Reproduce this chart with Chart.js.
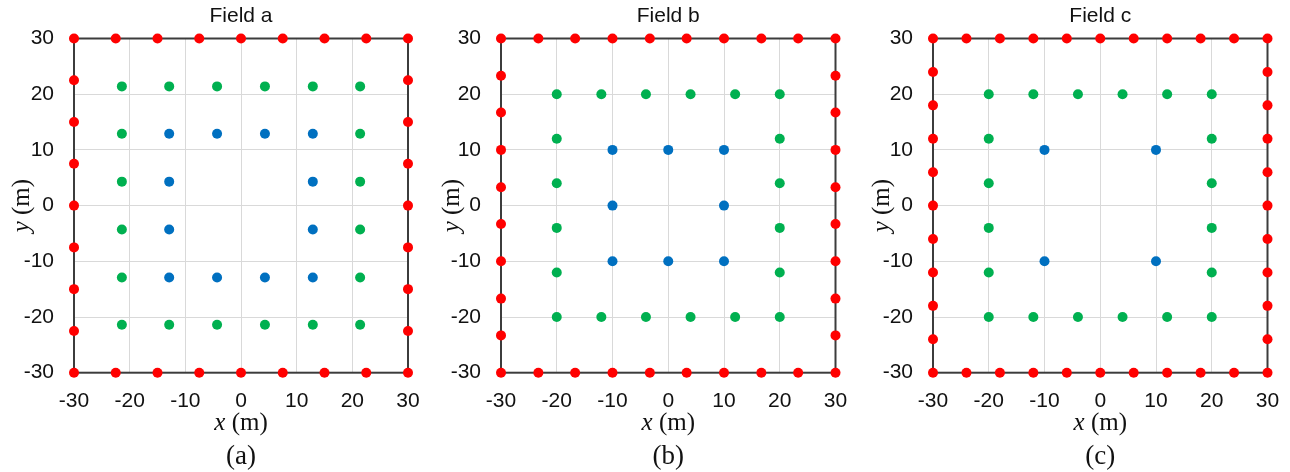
<!DOCTYPE html>
<html>
<head>
<meta charset="utf-8">
<script src="https://cdn.jsdelivr.net/npm/chart.js@4.4.1/dist/chart.umd.min.js"></script>
<style>
    html, body { margin: 0; padding: 0; background: #fff; }
    #wrap { position: relative; width: 1290px; height: 472px; }
    .panel { position: absolute; top: 0; height: 472px; }
</style>
</head>
<body>
<div id="wrap">
    <div class="panel" style="left:0px;width:430px"><canvas id="fieldA" width="430" height="472"></canvas></div>
    <div class="panel" style="left:430px;width:430px"><canvas id="fieldB" width="430" height="472"></canvas></div>
    <div class="panel" style="left:860px;width:430px"><canvas id="fieldC" width="430" height="472"></canvas></div>
</div>
<script>
"use strict";

// axis ticks (same for all three fields)
var tickValues = [-30, -20, -10, 0, 10, 20, 30];

// positions read along each side of a square ring (m)
var aRed   = [-30, -22.5, -15, -7.5, 0, 7.5, 15, 22.5, 30];
var aGreen = [-21.4, -12.9, -4.3, 4.3, 12.9, 21.4];
var aBlue  = [-12.9, -4.3, 4.3, 12.9];

var bRed   = [-30, -23.3, -16.7, -10, -3.3, 3.3, 10, 16.7, 23.3, 30];
var bGreen = [-20, -12, -4, 4, 12, 20];
var bBlue  = [-10, 0, 10];

var cRed   = [-30, -24, -18, -12, -6, 0, 6, 12, 18, 24, 30];
var cGreen = [-20, -12, -4, 4, 12, 20];
var cBlue  = [-10, 10];

var RED = '#ff0000', GREEN = '#00b050', BLUE = '#0070c0';

// put the read positions on the four sides of a square (corners once)
function ring(pos) {
    var lo = pos[0], hi = pos[pos.length - 1];
    var pts = [];
    pos.forEach(function (v) {
        pts.push({ x: v, y: hi });
        pts.push({ x: v, y: lo });
    });
    pos.slice(1, -1).forEach(function (v) {
        pts.push({ x: lo, y: v });
        pts.push({ x: hi, y: v });
    });
    return pts;
}

function set(points, color) {
    return {
        data: points,
        backgroundColor: color,
        borderWidth: 0,
        pointRadius: 5,
        pointHoverRadius: 5,
        clip: false
    };
}

// frame + texts drawn around the plot area
var panelText = {
    id: 'panelText',
    beforeDatasetsDraw: function (chart) {
        var a = chart.chartArea, ctx = chart.ctx;
        ctx.save();
        ctx.strokeStyle = '#3c3c3c';
        ctx.lineWidth = 2;
        ctx.strokeRect(a.left, a.top, a.right - a.left, a.bottom - a.top);
        ctx.restore();
    },
    afterDraw: function (chart) {
        var o = chart.options.plugins.panelText;
        var a = chart.chartArea, ctx = chart.ctx;
        var cx = (a.left + a.right) / 2, cy = (a.top + a.bottom) / 2;
        ctx.save();
        ctx.fillStyle = '#111';
        ctx.textBaseline = 'middle';

        // title
        ctx.font = '21px "Liberation Sans", Arial, sans-serif';
        ctx.textAlign = 'center';
        ctx.fillText(o.title, cx, 16);

        // x (m)
        drawAxisLabel(ctx, 'x', cx, 423);

        // y (m), rotated
        ctx.save();
        ctx.translate(22, cy);
        ctx.rotate(-Math.PI / 2);
        drawAxisLabel(ctx, 'y', 0, 0);
        ctx.restore();

        // (a) / (b) / (c)
        ctx.font = '27px "Liberation Serif", "Times New Roman", serif';
        ctx.textAlign = 'center';
        ctx.fillText(o.tag, cx, 457);
        ctx.restore();
    }
};

function drawAxisLabel(ctx, letter, cx, cy) {
    var it = 'italic 25px "Liberation Serif", "Times New Roman", serif';
    var up = '25px "Liberation Serif", "Times New Roman", serif';
    ctx.font = it;
    var w1 = ctx.measureText(letter).width;
    ctx.font = up;
    var w2 = ctx.measureText(' (m)').width;
    var x0 = cx - (w1 + w2) / 2;
    ctx.textAlign = 'left';
    ctx.font = it;
    ctx.fillText(letter, x0, cy);
    ctx.font = up;
    ctx.fillText(' (m)', x0 + w1, cy);
}

function makeField(id, title, tag, red, green, blue, yWidth, rightPad) {
    var tickFont = { family: '"Liberation Sans", Arial, sans-serif', size: 21 };
    return new Chart(document.getElementById(id), {
        type: 'scatter',
        data: {
            datasets: [set(ring(red), RED), set(ring(green), GREEN), set(ring(blue), BLUE)]
        },
        options: {
            responsive: false,
            animation: false,
            layout: { padding: { top: 38.5, right: rightPad, left: 0, bottom: 0 } },
            plugins: {
                legend: { display: false },
                tooltip: { enabled: false },
                panelText: { title: title, tag: tag }
            },
            scales: {
                x: {
                    type: 'linear',
                    min: -30, max: 30,
                    afterBuildTicks: function (s) { s.ticks = tickValues.map(function (v) { return { value: v }; }); },
                    afterFit: function (s) { s.height = 99.3; s.paddingLeft = 0; s.paddingRight = 0; },
                    grid: { color: '#d9d9d9', lineWidth: 1, drawTicks: false },
                    border: { display: false },
                    ticks: { color: '#111', font: tickFont, padding: 16, maxRotation: 0 }
                },
                y: {
                    type: 'linear',
                    min: -30, max: 30,
                    afterBuildTicks: function (s) { s.ticks = tickValues.map(function (v) { return { value: v }; }); },
                    afterFit: function (s) { s.width = yWidth; s.paddingTop = 0; s.paddingBottom = 0; },
                    grid: { color: '#d9d9d9', lineWidth: 1, drawTicks: false },
                    border: { display: false },
                    ticks: { color: '#111', font: tickFont, padding: 20 }
                }
            }
        },
        plugins: [panelText]
    });
}

makeField('fieldA', 'Field a', '(a)', aRed, aGreen, aBlue, 74, 22);
makeField('fieldB', 'Field b', '(b)', bRed, bGreen, bBlue, 71, 24.5);
makeField('fieldC', 'Field c', '(c)', cRed, cGreen, cBlue, 73, 22.5);
</script>
</body>
</html>
